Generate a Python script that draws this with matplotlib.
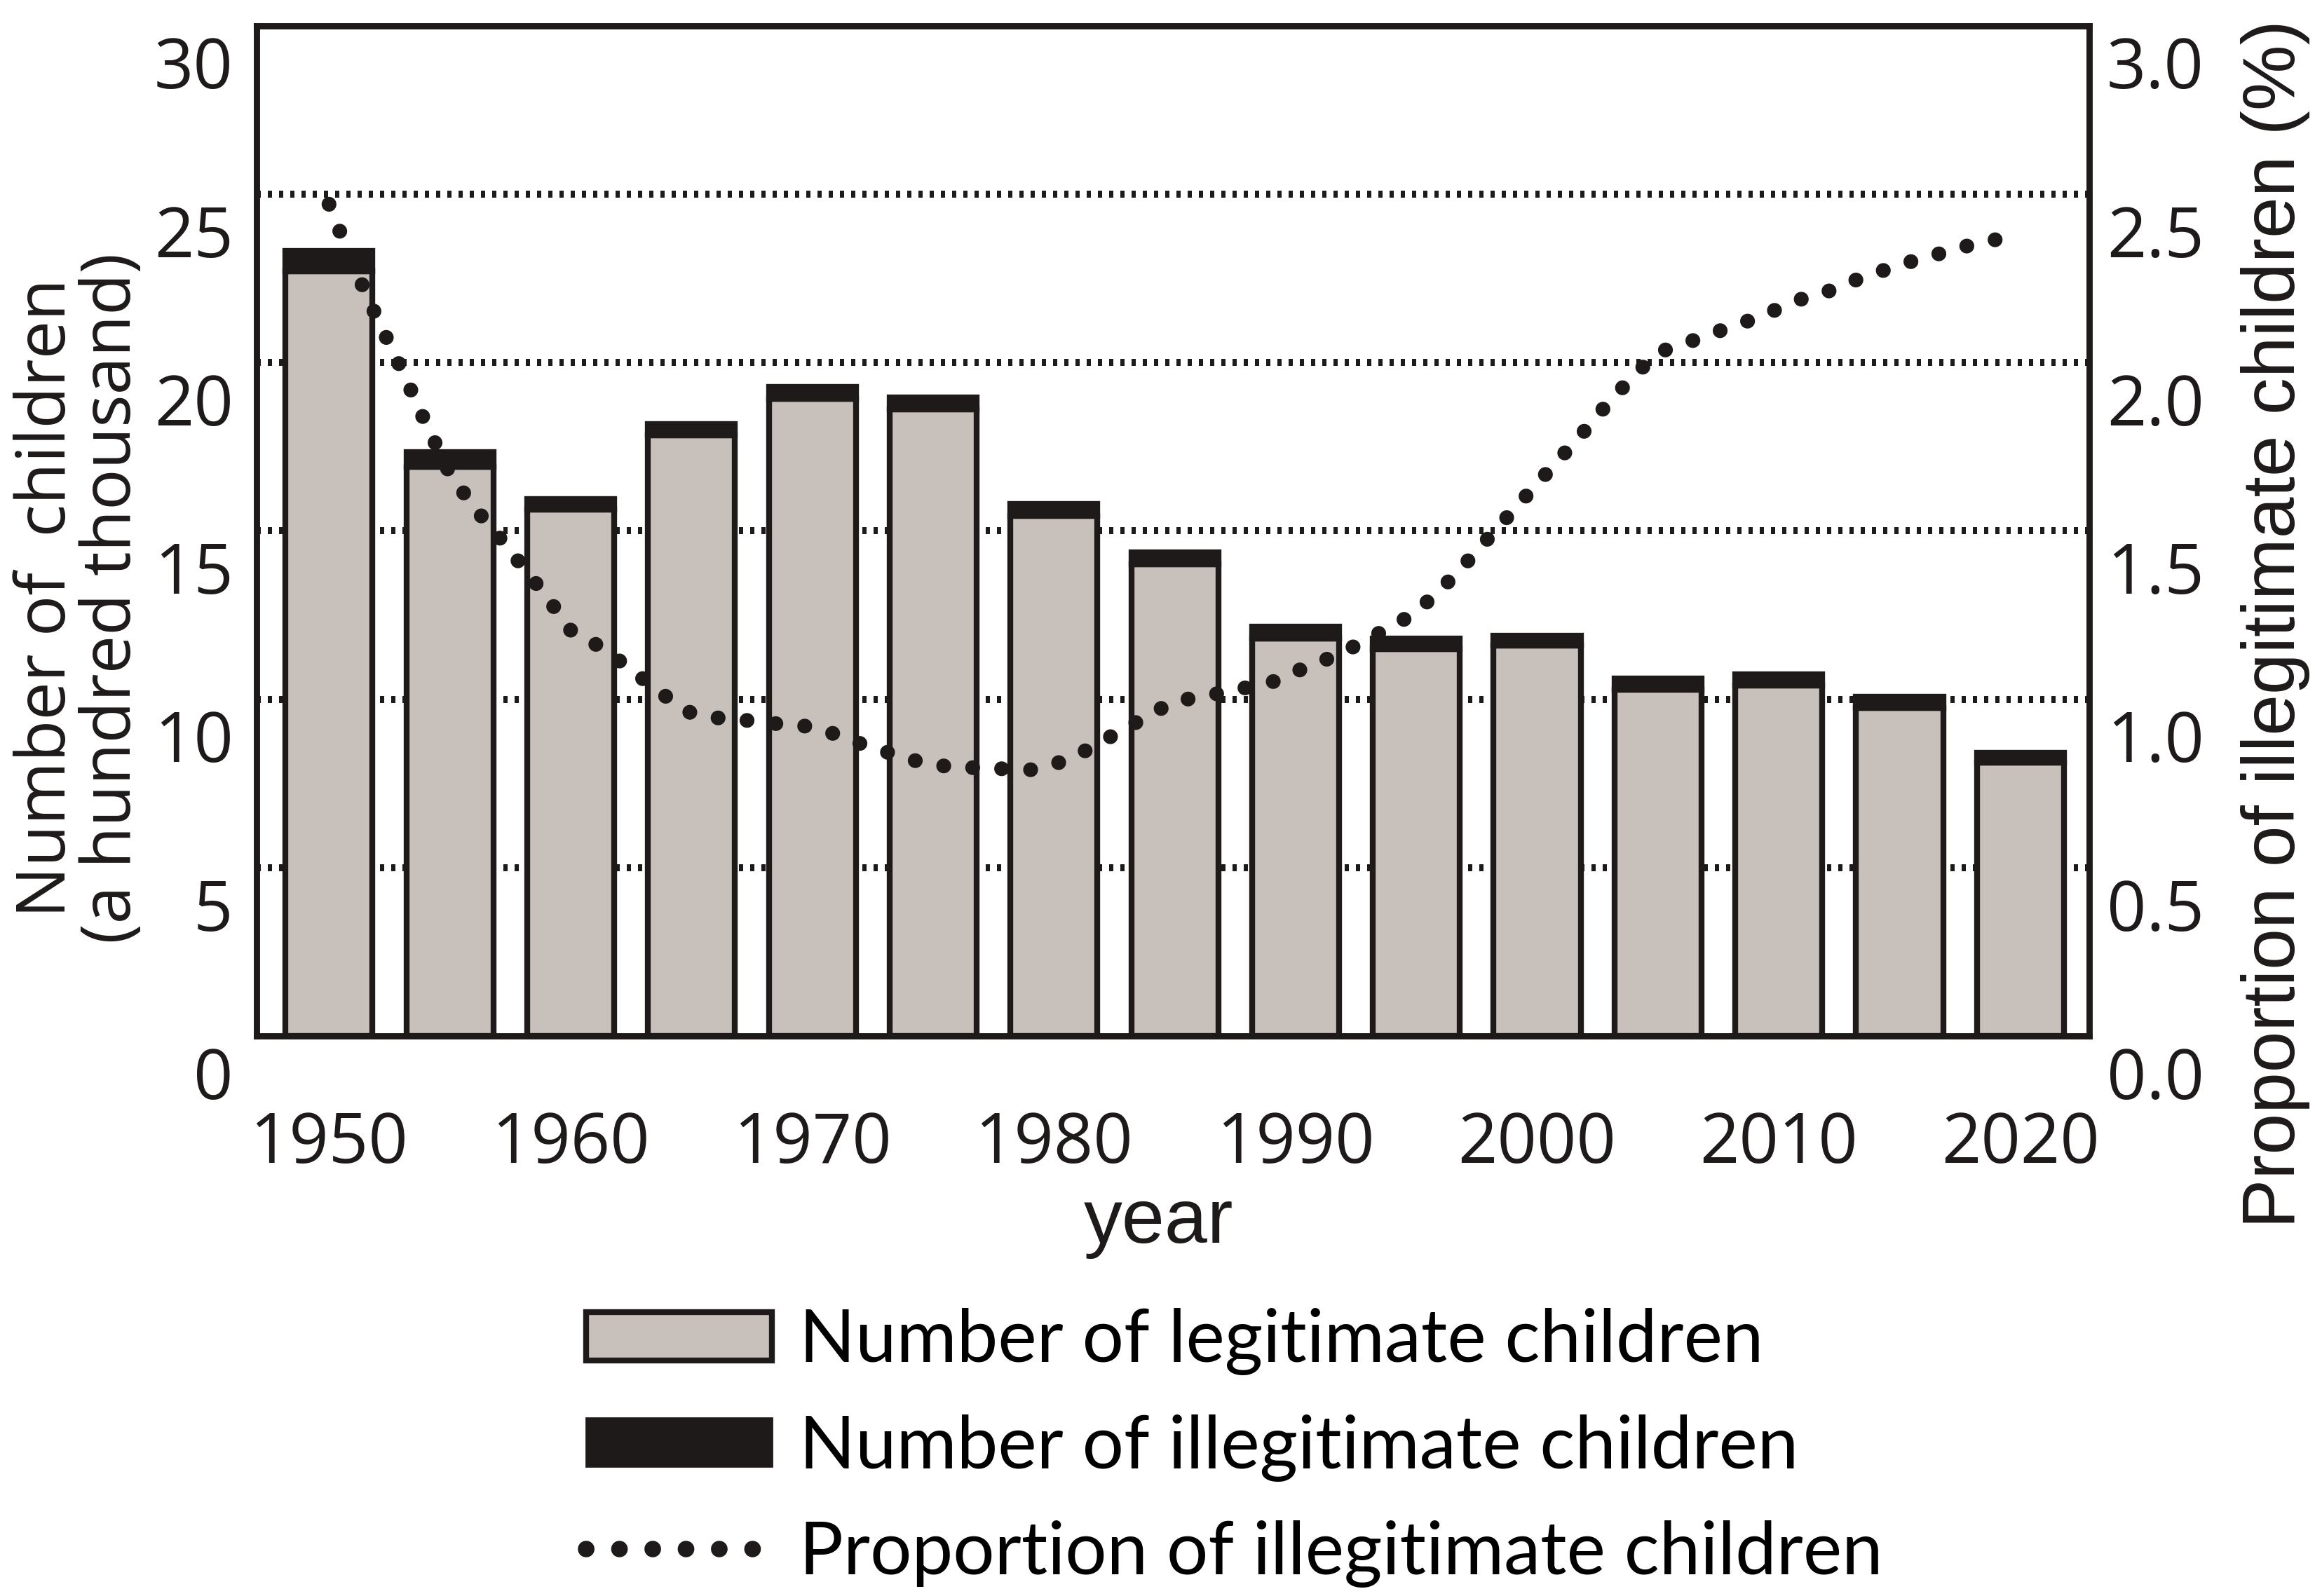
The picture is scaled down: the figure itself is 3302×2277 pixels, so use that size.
import numpy as np
import matplotlib.pyplot as plt
from matplotlib.patches import Patch
from matplotlib.lines import Line2D
from matplotlib.transforms import ScaledTranslation

# bar data (a hundred thousand children), every 5 years
years = [1950, 1955, 1960, 1965, 1970, 1975, 1980, 1985, 1990, 1995, 2000, 2005, 2010, 2015, 2020]
legit = [22.70, 16.91, 15.64, 17.83, 18.92, 18.61, 15.45, 14.00, 11.80, 11.48, 11.59, 10.29, 10.40, 9.75, 8.11]
illegit = [0.62, 0.42, 0.30, 0.34, 0.36, 0.35, 0.34, 0.36, 0.36, 0.33, 0.30, 0.32, 0.33, 0.33, 0.30]

# proportion of illegitimate children (%), yearly
prop_years = list(range(1950, 2020))
prop = [2.47, 2.29, 2.13, 1.98, 1.82, 1.67, 1.57, 1.485, 1.395, 1.305,
        1.205, 1.165, 1.115, 1.06, 1.005, 0.958, 0.945, 0.94, 0.93, 0.925,
        0.918, 0.895, 0.868, 0.845, 0.822, 0.805, 0.798, 0.796, 0.793, 0.790,
        0.806, 0.835, 0.875, 0.915, 0.955, 0.995, 1.005, 1.02, 1.035, 1.05,
        1.082, 1.11, 1.14, 1.18, 1.215, 1.26, 1.325, 1.40, 1.48, 1.56,
        1.64, 1.72, 1.80, 1.885, 1.96, 2.03, 2.053, 2.08, 2.105, 2.13,
        2.16, 2.19, 2.21, 2.24, 2.265, 2.29, 2.31, 2.33, 2.35, 2.365]

left_ticks = [0, 5, 10, 15, 20, 25, 30]
right_ticks = [0.0, 0.5, 1.0, 1.5, 2.0, 2.5, 3.0]
grid_levels = [5, 10, 15, 20, 25]
x_ticks = [1950, 1960, 1970, 1980, 1990, 2000, 2010, 2020]

gray = '#c8c0bb'
dark = '#1e1a1a'
tick_font = 'Open Sans'

fig = plt.figure(figsize=(16.51, 11.385), dpi=200)
ax = fig.add_axes([0.1108, 0.3509, 0.7917, 0.633])
ax2 = ax.twinx()

# dotted grid lines behind the bars
for g in grid_levels:
    ax.axhline(g, color=dark, lw=3.6, linestyle=(0, (0.6, 1.0)),
               dash_capstyle='butt', zorder=0)

ax.bar(years, legit, width=3.6, color=gray, edgecolor=dark, linewidth=3, zorder=2)
ax.bar(years, illegit, bottom=legit, width=3.6, color=dark, edgecolor=dark,
       linewidth=3, zorder=2)

ax2.plot(prop_years, prop, color=dark, lw=7.6, linestyle=(0, (0.01, 1.95)),
         dash_capstyle='round', zorder=5)

ax.set_xlim(1947.0, 2022.85)
ax.set_ylim(0, 30)
ax2.set_ylim(0, 3.0)

ax.set_xticks(x_ticks)
ax.set_xticklabels([str(x) for x in x_ticks], fontsize=35.5, family=tick_font)
ax.set_yticks(left_ticks)
ax.set_yticklabels([str(v) for v in left_ticks], fontsize=35.5, family=tick_font)
ax2.set_yticks(right_ticks)
ax2.set_yticklabels(['%.1f' % v for v in right_ticks], fontsize=35.5, family=tick_font)

ax.tick_params(axis='x', length=0, pad=38, colors=dark)
ax.tick_params(axis='y', length=0, pad=12, colors=dark)
ax2.tick_params(axis='y', length=0, pad=9, colors=dark)

for sp in ax.spines.values():
    sp.set_linewidth(3.2)
    sp.set_color(dark)
for sp in ax2.spines.values():
    sp.set_visible(False)

# y tick labels sit a little below their levels in the original
shift = ScaledTranslation(0, -52 / 200, fig.dpi_scale_trans)
for lab in ax.get_yticklabels() + ax2.get_yticklabels():
    lab.set_transform(lab.get_transform() + shift)

ax.set_ylabel('Number of  children\n(a hundred thousand)', fontsize=35,
              family=tick_font, linespacing=0.95, color=dark)
ax.yaxis.set_label_coords(0.0345, 0.6254, transform=fig.transFigure)
ax.yaxis.label.set(ha='center', va='center', rotation_mode='default')

ax2.set_ylabel('Proportion of illegitimate children (%)', fontsize=38,
               family='Liberation Sans', color=dark)
ax2.yaxis.set_label_coords(0.983, 0.609, transform=fig.transFigure)
ax2.yaxis.label.set(ha='center', va='center', rotation_mode='default')

ax.set_xlabel('year', fontsize=39.5, family='Liberation Sans', color=dark)
ax.xaxis.set_label_coords(0.5003, 0.2336, transform=fig.transFigure)
ax.xaxis.label.set(va='center')

handles = [
    Patch(facecolor=gray, edgecolor=dark, linewidth=3),
    Patch(facecolor=dark, edgecolor=dark),
    Line2D([], [], color=dark, lw=8.5, linestyle=(0, (0.01, 2.0)), dash_capstyle='round'),
]
labels = ['Number of legitimate children', 'Number of illegitimate children',
          'Proportion of illegitimate children']
fig.legend(handles, labels, loc='upper left', bbox_to_anchor=(0.2532, 0.1805),
           frameon=False, prop={'family': 'Lato', 'size': 37.7},
           handlelength=2.53, handleheight=0.64, handletextpad=0.37,
           labelspacing=0.53, borderpad=0, borderaxespad=0)

fig.savefig('out.png', dpi=200)
